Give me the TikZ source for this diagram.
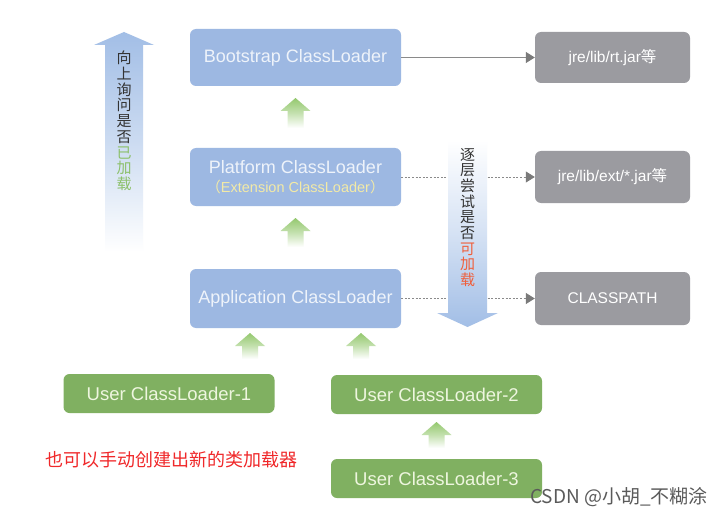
\documentclass[tikz,border=0pt]{standalone}
\usepackage{fontspec}
\setmainfont{Liberation Sans}
\newfontfamily\cjk{Noto Sans CJK SC}
\usetikzlibrary{arrows.meta}
\definecolor{bluebox}{HTML}{9DB8E2}
\definecolor{bluetext}{HTML}{EEF3FA}
\definecolor{exttext}{HTML}{F3EAA6}
\definecolor{graybox}{HTML}{9B9BA0}
\definecolor{greenbox}{HTML}{80B061}
\definecolor{greentext}{HTML}{EEF6DF}
\definecolor{greenarrow}{HTML}{94C86E}
\definecolor{bigblue}{HTML}{A2BEE6}
\definecolor{linegray}{HTML}{8A8A8A}
\definecolor{tiphead}{HTML}{7A7A7A}
\definecolor{txtdark}{HTML}{333333}
\definecolor{txtgreen}{HTML}{8CC06A}
\definecolor{txtorange}{HTML}{EF5F3C}
\definecolor{redtext}{HTML}{F0282A}
\definecolor{wmgray}{HTML}{5A5A5A}
\tikzset{
  bluebox/.style={fill=bluebox, rounded corners=6pt, minimum width=211pt, text=bluetext, font=\fontsize{18}{21}\selectfont, inner sep=0pt, align=center},
  graybox/.style={fill=graybox, rounded corners=6pt, minimum width=155pt, text=white, font=\fontsize{15.5}{18}\selectfont, inner sep=0pt},
  greenbox/.style={fill=greenbox, rounded corners=6pt, minimum width=211pt, minimum height=39pt, text=greentext, font=\fontsize{18.5}{21}\selectfont, inner sep=0pt},
  pathline/.style={draw=linegray, line width=0.8pt, -{Triangle[length=9pt,width=11pt,fill=tiphead,color=tiphead]}},
  dotline/.style={pathline, dash pattern=on 2pt off 1.6pt},
  vtext/.style={font=\cjk\fontsize{15}{15.7}\selectfont, align=center, inner sep=0pt, text=txtdark},
}
% green fat arrow: x, ytop, ybottom
\newcommand\garrow[3]{%
  \shade[top color=greenarrow, bottom color=white, middle color=greenarrow!55]
    (#1,#2) -- (#1+15,#2+13) -- (#1+8,#2+13) -- (#1+8,#3) -- (#1-8,#3) -- (#1-8,#2+13) -- (#1-15,#2+13) -- cycle;}
\begin{document}
\begin{tikzpicture}[x=1pt,y=-1pt]
\useasboundingbox[fill=white] (0,0) rectangle (723,516);

% big left up arrow
\shade[top color=bigblue, bottom color=white, middle color=bigblue!55]
  (124,32) -- (154,45) -- (143,45) -- (143,252) -- (105,252) -- (105,45) -- (94,45) -- cycle;
\node[vtext] (up) at (124,121) {向\\上\\询\\问\\是\\否\\\textcolor{txtgreen}{已}\\\textcolor{txtgreen}{加}\\\textcolor{txtgreen}{载}};

% blue loaders
\node[bluebox, minimum height=57pt] (boot) at (295.5,57.5) {Bootstrap ClassLoader};
\node[bluebox, minimum height=58pt] (plat) at (295.5,177) {Platform ClassLoader\\[-2pt]{\fontsize{14.5}{16}\selectfont\color{exttext}{\cjk （}Extension ClassLoader{\cjk ）}}};
\node[bluebox, minimum height=59pt] (app) at (295.5,298.5) {Application ClassLoader};

% gray paths
\node[graybox, minimum height=51pt] (rt) at (612.5,57.5) {jre/lib/rt.jar{\cjk 等}};
\node[graybox, minimum height=52pt] (ext) at (612.5,177) {jre/lib/ext/*.jar{\cjk 等}};
\node[graybox, minimum height=53pt] (cp) at (612.5,298.5) {CLASSPATH};

\draw[pathline] (boot.east) -- (rt.west);
\draw[dotline] (plat.east) -- (ext.west);
\draw[dotline] (app.east) -- (cp.west);

% big right down arrow
\shade[top color=white, bottom color=bigblue, middle color=bigblue!45]
  (448,140) -- (487,140) -- (487,313) -- (498,313) -- (467.5,327) -- (437,313) -- (448,313) -- cycle;
\node[vtext] (down) at (467.5,217.5) {逐\\层\\尝\\试\\是\\否\\\textcolor{txtorange}{可}\\\textcolor{txtorange}{加}\\\textcolor{txtorange}{载}};

% green user loaders
\node[greenbox] (u1) at (169,393.5) {User ClassLoader-1};
\node[greenbox] (u2) at (436.5,394.5) {User ClassLoader-2};
\node[greenbox] (u3) at (436.5,478.5) {User ClassLoader-3};

% green fat arrows
\garrow{295.5}{98}{128}
\garrow{295.5}{218}{247}
\garrow{250}{333}{359}
\garrow{361}{333}{359}
\garrow{436.5}{422}{448}

\node[font=\cjk\fontsize{18}{20}\selectfont, text=redtext, anchor=west, inner sep=0pt] (note) at (45,460) {也可以手动创建出新的类加载器};
\node[font=\cjk\fontsize{19}{21}\selectfont, text=wmgray, anchor=east, inner sep=0pt] (wm) at (708,497) {CSDN @小胡\_不糊涂};
\end{tikzpicture}
\end{document}
